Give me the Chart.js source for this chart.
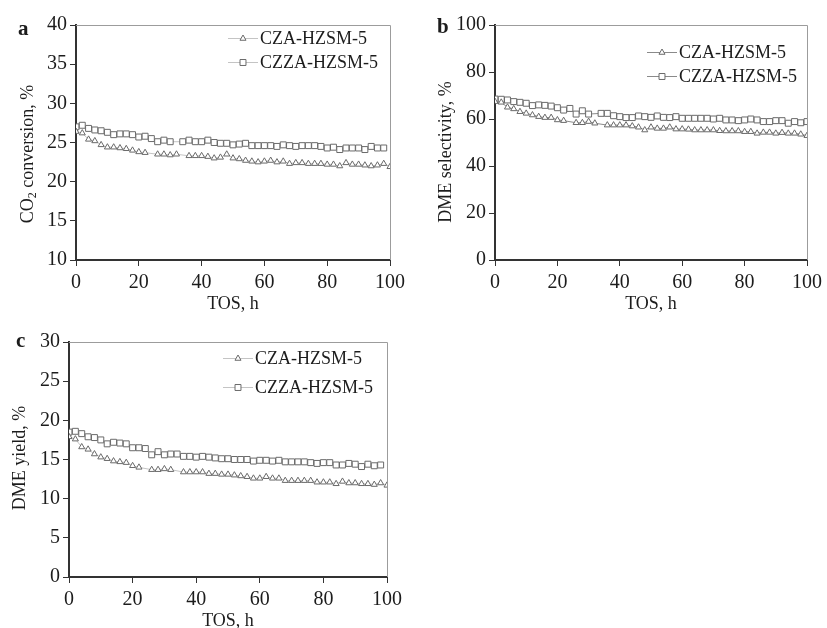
<!DOCTYPE html>
<html>
<head>
<meta charset="utf-8">
<script src="https://cdn.jsdelivr.net/npm/chart.js@4.4.0/dist/chart.umd.min.js"></script>
<style>
  html, body { margin: 0; padding: 0; background: #fff; }
  #wrap { position: relative; width: 827px; height: 628px; overflow: hidden; background: #fff; }
  canvas { position: absolute; }
</style>
</head>
<body>
<div id="wrap">
  <canvas id="panelA" style="left:0;top:0" width="410" height="315"></canvas>
  <canvas id="panelB" style="left:410px;top:0" width="417" height="315"></canvas>
  <canvas id="panelC" style="left:0;top:310px" width="410" height="318"></canvas>
</div>
<script>
// Time on stream, h
const tosHours = [0, 2, 4, 6, 8, 10, 12, 14, 16, 18, 20, 22, 24, 26, 28, 30, 32, 34, 36, 38, 40,
  42, 44, 46, 48, 50, 52, 54, 56, 58, 60, 62, 64, 66, 68, 70, 72, 74, 76, 78, 80,
  82, 84, 86, 88, 90, 92, 94, 96, 98, 100];

const xTicks = [0, 20, 40, 60, 80, 100];
const seriesNames = ['CZA-HZSM-5', 'CZZA-HZSM-5'];

// (a) CO2 conversion, %
const co2ConvCZA = [26.4, 26.2, 25.4, 25.2, 24.7, 24.4, 24.4, 24.3, 24.2, 24.0, 23.8, 23.7, null, 23.5, 23.5, 23.4, 23.5, null,
  23.3, 23.3, 23.3, 23.2, 23.0, 23.1, 23.5, 23.0, 22.9, 22.7, 22.6, 22.5, 22.6, 22.7, 22.5, 22.6, 22.3, 22.4, 22.4,
  22.3, 22.3, 22.3, 22.2, 22.2, 22.0, 22.4, 22.2, 22.2, 22.1, 22.0, 22.1, 22.3, 21.9];
const co2ConvCZZA = [27.0, 27.2, 26.8, 26.6, 26.5, 26.3, 26.0, 26.1, 26.1, 26.0, 25.7, 25.8, 25.5, 25.1, 25.3, 25.1, null,
  25.1, 25.3, 25.1, 25.1, 25.3, 25.0, 24.9, 24.9, 24.7, 24.8, 24.9, 24.6, 24.6, 24.6, 24.6, 24.5, 24.7, 24.6, 24.5,
  24.6, 24.6, 24.6, 24.5, 24.3, 24.4, 24.1, 24.3, 24.3, 24.3, 24.1, 24.5, 24.3, 24.3, null];
const co2Ticks = [10, 15, 20, 25, 30, 35, 40];

// (b) DME selectivity, %
const dmeSelCZA = [67.4, 67.1, 65.0, 64.3, 63.1, 62.4, 61.7, 61.0, 60.6, 60.6, 59.6, 59.3, null, 58.4, 58.4, 58.9, 58.2, null,
  57.4, 57.4, 57.4, 57.4, 57.0, 56.5, 55.3, 56.5, 56.0, 56.0, 56.5, 55.7, 55.7, 55.6, 55.3, 55.3, 55.3, 55.3, 55.0,
  54.9, 54.9, 54.9, 54.6, 54.6, 53.9, 54.3, 54.3, 53.9, 54.2, 53.9, 53.9, 53.5, 52.9];
const dmeSelCZZA = [68.5, 68.4, 68.1, 67.4, 67.1, 66.7, 65.7, 66.0, 65.8, 65.5, 64.8, 63.8, 64.5, 62.1, 63.5, 62.1, null,
  62.4, 62.4, 61.4, 61.0, 60.6, 60.6, 61.3, 61.0, 60.7, 61.3, 60.7, 60.6, 61.0, 60.3, 60.3, 60.3, 60.3, 60.3, 60.0,
  60.3, 59.6, 59.6, 59.3, 59.6, 60.0, 59.6, 58.9, 58.9, 59.3, 59.3, 58.2, 58.9, 58.4, 58.9];
const selTicks = [0, 20, 40, 60, 80, 100];

// (c) DME yield, %
const dmeYieldCZA = [17.9, 17.6, 16.6, 16.3, 15.7, 15.3, 15.1, 14.8, 14.7, 14.6, 14.2, 14.0, null, 13.7, 13.7, 13.8, 13.7, null,
  13.4, 13.4, 13.4, 13.4, 13.2, 13.2, 13.1, 13.1, 13.0, 12.9, 12.8, 12.6, 12.6, 12.8, 12.6, 12.6, 12.3, 12.3, 12.3,
  12.3, 12.3, 12.1, 12.1, 12.1, 11.9, 12.2, 12.0, 12.0, 11.9, 11.9, 11.8, 12.0, 11.7];
const dmeYieldCZZA = [18.5, 18.6, 18.3, 17.9, 17.8, 17.5, 17.0, 17.2, 17.1, 17.0, 16.5, 16.5, 16.4, 15.6, 16.0, 15.6, 15.7,
  15.7, 15.4, 15.4, 15.3, 15.4, 15.3, 15.2, 15.1, 15.1, 15.0, 15.0, 15.0, 14.8, 14.9, 14.9, 14.8, 14.9, 14.7, 14.7,
  14.7, 14.7, 14.6, 14.5, 14.6, 14.6, 14.3, 14.3, 14.5, 14.4, 14.1, 14.4, 14.2, 14.3, null];
const yieldTicks = [0, 5, 10, 15, 20, 25, 30];

const SERIF = '"Liberation Serif", "Times New Roman", "DejaVu Serif", serif';
const INK = '#1c1c1c';
const MARKER = '#6a6a6a';

function toPoints(xs, ys) {
  return xs.map((x, i) => ({ x: x, y: ys[i] }));
}

// Frame, panel letter, axis titles and in-plot legend
const panelDecor = {
  id: 'panelDecor',
  afterDraw(chart, args, o) {
    const ctx = chart.ctx;
    const a = chart.chartArea;
    ctx.save();

    // thin frame on the top and right sides of the plot box
    ctx.strokeStyle = '#9c9c9c';
    ctx.lineWidth = 1;
    ctx.beginPath();
    ctx.moveTo(a.left, a.top + 0.5);
    ctx.lineTo(a.right + 0.5, a.top + 0.5);
    ctx.lineTo(a.right + 0.5, a.bottom);
    ctx.stroke();

    // panel letter
    ctx.fillStyle = INK;
    ctx.font = 'bold 21px ' + SERIF;
    ctx.textAlign = 'left';
    ctx.textBaseline = 'alphabetic';
    ctx.fillText(o.letter, o.letterX, o.letterY);

    // x-axis title
    ctx.font = '18px ' + SERIF;
    ctx.textAlign = 'center';
    ctx.fillText(o.xTitle, (a.left + a.right) / 2, a.bottom + o.xTitleGap);

    // y-axis title, rotated; pieces may be subscripts
    const mainFont = '18px ' + SERIF;
    const subFont = '12px ' + SERIF;
    let total = 0;
    o.yTitle.forEach(p => {
      ctx.font = p.sub ? subFont : mainFont;
      p.w = ctx.measureText(p.t).width;
      total += p.w;
    });
    ctx.save();
    ctx.translate(o.yTitleX, o.yTitleY);
    ctx.rotate(-Math.PI / 2);
    ctx.textAlign = 'left';
    ctx.textBaseline = 'middle';
    let cx = -total / 2;
    o.yTitle.forEach(p => {
      ctx.font = p.sub ? subFont : mainFont;
      ctx.fillText(p.t, cx, p.sub ? 5 : 0);
      cx += p.w;
    });
    ctx.restore();

    // legend
    chart.data.datasets.forEach((ds, i) => {
      const y = o.legendRows[i];
      const x0 = o.legendX;
      ctx.strokeStyle = ds.borderColor;
      ctx.lineWidth = 1;
      ctx.beginPath();
      ctx.moveTo(x0, y + 0.5);
      ctx.lineTo(x0 + 30, y + 0.5);
      ctx.stroke();
      ctx.fillStyle = '#fff';
      ctx.strokeStyle = ds.pointBorderColor;
      Chart.helpers.drawPoint(ctx, {
        pointStyle: ds.pointStyle,
        radius: ds.pointRadius,
        borderWidth: 1,
        rotation: 0
      }, x0 + 15, y + 0.5);
      ctx.fillStyle = INK;
      ctx.font = '18px ' + SERIF;
      ctx.textAlign = 'left';
      ctx.textBaseline = 'middle';
      ctx.fillText(ds.label, x0 + 32, y + 1);
    });

    ctx.restore();
  }
};

function makePanel(id, czaVals, czzaVals, yTickVals, box, decor, lineColor) {
  const tickFont = { family: SERIF, size: 20 };
  new Chart(document.getElementById(id), {
    type: 'line',
    data: {
      datasets: [
        {
          label: seriesNames[0],
          data: toPoints(tosHours, czaVals),
          borderColor: lineColor,
          borderWidth: 1,
          pointStyle: 'triangle',
          pointRadius: 3.5,
          pointBorderColor: MARKER,
          pointBackgroundColor: '#fff',
          pointBorderWidth: 1,
          spanGaps: true,
          tension: 0
        },
        {
          label: seriesNames[1],
          data: toPoints(tosHours, czzaVals),
          borderColor: lineColor,
          borderWidth: 1,
          pointStyle: 'rect',
          pointRadius: 4.2,
          pointBorderColor: MARKER,
          pointBackgroundColor: '#fff',
          pointBorderWidth: 1,
          spanGaps: true,
          tension: 0
        }
      ]
    },
    options: {
      responsive: false,
      animation: false,
      events: [],
      layout: { padding: { left: 0, top: box.top, right: box.right, bottom: 0 } },
      plugins: {
        legend: { display: false },
        tooltip: { enabled: false },
        panelDecor: decor
      },
      scales: {
        x: {
          type: 'linear',
          min: xTicks[0],
          max: xTicks[xTicks.length - 1],
          afterBuildTicks: s => { s.ticks = xTicks.map(v => ({ value: v })); },
          ticks: { font: tickFont, color: INK, padding: 5, maxRotation: 0, autoSkip: false },
          grid: { drawOnChartArea: false, tickLength: 6, tickColor: '#333', lineWidth: 1 },
          border: { color: '#333', width: 2 },
          afterFit: s => { s.height = box.xh; }
        },
        y: {
          type: 'linear',
          min: yTickVals[0],
          max: yTickVals[yTickVals.length - 1],
          afterBuildTicks: s => { s.ticks = yTickVals.map(v => ({ value: v })); },
          ticks: { font: tickFont, color: INK, padding: 3, autoSkip: false },
          grid: { drawOnChartArea: false, tickLength: 6, tickColor: '#333', lineWidth: 1 },
          border: { color: '#333', width: 2 },
          afterFit: s => { s.width = box.yw; }
        }
      }
    },
    plugins: [panelDecor]
  });
}

makePanel('panelA', co2ConvCZA, co2ConvCZZA, co2Ticks,
  { top: 25, right: 18, yw: 76, xh: 55 },
  {
    letter: 'a', letterX: 18, letterY: 35,
    xTitle: 'TOS, h', xTitleGap: 49,
    yTitle: [{ t: 'CO' }, { t: '2', sub: true }, { t: ' conversion, %' }], yTitleX: 28, yTitleY: 154,
    legendX: 228, legendRows: [38, 62]
  }, '#c4c4c4');

makePanel('panelB', dmeSelCZA, dmeSelCZZA, selTicks,
  { top: 25, right: 15, yw: 85, xh: 55 },
  {
    letter: 'b', letterX: 27, letterY: 33,
    xTitle: 'TOS, h', xTitleGap: 49,
    yTitle: [{ t: 'DME selectivity, %' }], yTitleX: 36, yTitleY: 152,
    legendX: 237, legendRows: [52, 76]
  }, '#8a8a8a');

makePanel('panelC', dmeYieldCZA, dmeYieldCZZA, yieldTicks,
  { top: 32, right: 23, yw: 69, xh: 51 },
  {
    letter: 'c', letterX: 16, letterY: 37,
    xTitle: 'TOS, h', xTitleGap: 49,
    yTitle: [{ t: 'DME yield, %' }], yTitleX: 20, yTitleY: 148,
    legendX: 223, legendRows: [48, 77]
  }, '#c4c4c4');
</script>
</body>
</html>
